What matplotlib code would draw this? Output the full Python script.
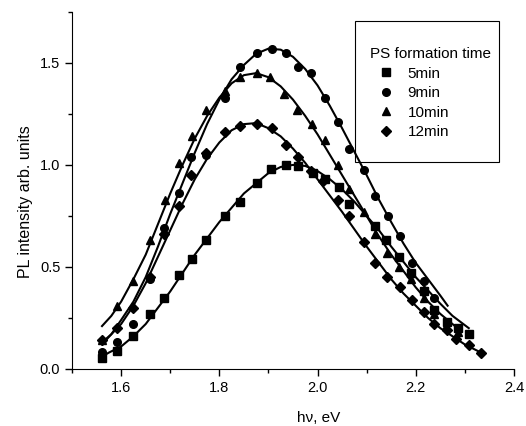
import numpy as np
import matplotlib
matplotlib.use('Agg')
import matplotlib.pyplot as plt
from matplotlib.patches import Rectangle
from matplotlib.ticker import MultipleLocator

plt.rcParams['font.family'] = ['Liberation Sans', 'DejaVu Sans']

# 5min (squares)
x5 = [1.561, 1.592, 1.624, 1.659, 1.688, 1.717, 1.745, 1.773, 1.811, 1.843, 1.877, 1.906,
      1.935, 1.961, 1.99, 2.016, 2.043, 2.065, 2.118, 2.139, 2.165, 2.19, 2.216, 2.237,
      2.263, 2.286, 2.308]
y5 = [0.054, 0.09, 0.16, 0.27, 0.35, 0.46, 0.54, 0.63, 0.75, 0.82, 0.91, 0.98,
      1.00, 0.995, 0.96, 0.93, 0.89, 0.81, 0.70, 0.63, 0.55, 0.47, 0.38, 0.29,
      0.23, 0.20, 0.17]

# 9min (circles)
x9 = [1.561, 1.592, 1.624, 1.659, 1.688, 1.717, 1.743, 1.773, 1.812, 1.843, 1.877, 1.908,
      1.935, 1.961, 1.986, 2.016, 2.041, 2.065, 2.094, 2.118, 2.143, 2.167, 2.192, 2.216,
      2.237]
y9 = [0.085, 0.13, 0.22, 0.44, 0.69, 0.86, 1.04, 1.05, 1.33, 1.48, 1.55, 1.57,
      1.55, 1.48, 1.45, 1.33, 1.21, 1.08, 0.975, 0.85, 0.75, 0.65, 0.52, 0.43,
      0.35]

# 10min (triangles)
x10 = [1.561, 1.592, 1.624, 1.659, 1.69, 1.717, 1.745, 1.773, 1.812, 1.843, 1.877, 1.904,
       1.931, 1.959, 1.988, 2.016, 2.041, 2.065, 2.094, 2.118, 2.141, 2.165, 2.19, 2.216,
       2.237, 2.261, 2.286]
y10 = [0.14, 0.31, 0.43, 0.63, 0.83, 1.01, 1.14, 1.27, 1.36, 1.43, 1.45, 1.43,
       1.35, 1.27, 1.20, 1.12, 1.00, 0.88, 0.77, 0.66, 0.57, 0.50, 0.44, 0.35,
       0.27, 0.21, 0.18]

# 12min (diamonds)
x12 = [1.561, 1.592, 1.624, 1.659, 1.688, 1.717, 1.743, 1.773, 1.812, 1.843, 1.877, 1.908,
       1.935, 1.961, 1.986, 2.012, 2.041, 2.065, 2.094, 2.118, 2.141, 2.167, 2.192, 2.216,
       2.237, 2.263, 2.282, 2.308, 2.333]
y12 = [0.14, 0.20, 0.30, 0.45, 0.66, 0.80, 0.95, 1.06, 1.16, 1.19, 1.20, 1.18,
       1.10, 1.04, 0.97, 0.92, 0.83, 0.75, 0.62, 0.52, 0.45, 0.40, 0.34, 0.28,
       0.22, 0.19, 0.147, 0.118, 0.08]

# fitted curves
fx5 = [1.561, 1.575, 1.60, 1.625, 1.65, 1.675, 1.70, 1.725, 1.75, 1.775, 1.80, 1.825, 1.85,
       1.875, 1.90, 1.925, 1.95, 1.975, 2.00, 2.025, 2.05, 2.075, 2.10, 2.125, 2.15, 2.175,
       2.20, 2.225, 2.25, 2.275, 2.308]
fy5 = [0.06, 0.08, 0.11, 0.16, 0.22, 0.30, 0.38, 0.47, 0.56, 0.64, 0.72, 0.79, 0.86,
       0.91, 0.96, 0.99, 1.00, 0.995, 0.97, 0.93, 0.88, 0.82, 0.75, 0.68, 0.60, 0.525,
       0.45, 0.385, 0.32, 0.26, 0.20]

fx9 = [1.561, 1.58, 1.60, 1.625, 1.65, 1.675, 1.70, 1.725, 1.75, 1.775, 1.80, 1.825, 1.85,
       1.875, 1.90, 1.925, 1.95, 1.975, 2.00, 2.025, 2.05, 2.075, 2.10, 2.125, 2.15, 2.175,
       2.20, 2.225, 2.25, 2.265]
fy9 = [0.12, 0.17, 0.24, 0.33, 0.45, 0.60, 0.76, 0.91, 1.06, 1.20, 1.32, 1.42, 1.49,
       1.545, 1.57, 1.565, 1.53, 1.47, 1.39, 1.29, 1.18, 1.065, 0.95, 0.83, 0.72, 0.615,
       0.52, 0.44, 0.36, 0.31]

fx10 = [1.561, 1.58, 1.60, 1.625, 1.65, 1.675, 1.70, 1.725, 1.75, 1.775, 1.80, 1.825, 1.85,
        1.875, 1.90, 1.925, 1.95, 1.975, 2.00, 2.025, 2.05, 2.075, 2.10, 2.125, 2.15, 2.175,
        2.20, 2.225, 2.25, 2.29]
fy10 = [0.21, 0.26, 0.33, 0.44, 0.56, 0.71, 0.86, 1.00, 1.13, 1.24, 1.33, 1.40, 1.44,
        1.45, 1.43, 1.385, 1.32, 1.24, 1.15, 1.05, 0.95, 0.85, 0.75, 0.65, 0.56, 0.48,
        0.40, 0.33, 0.27, 0.19]

fx12 = [1.561, 1.58, 1.60, 1.625, 1.65, 1.675, 1.70, 1.725, 1.75, 1.775, 1.80, 1.825, 1.85,
        1.875, 1.90, 1.925, 1.95, 1.975, 2.00, 2.025, 2.05, 2.075, 2.10, 2.125, 2.15, 2.175,
        2.20, 2.225, 2.25, 2.275, 2.30, 2.333]
fy12 = [0.13, 0.17, 0.22, 0.31, 0.42, 0.55, 0.68, 0.81, 0.93, 1.03, 1.11, 1.17, 1.20,
        1.205, 1.18, 1.14, 1.08, 1.01, 0.93, 0.85, 0.77, 0.685, 0.60, 0.52, 0.44, 0.37,
        0.31, 0.25, 0.20, 0.16, 0.12, 0.08]

labels = ['5min', '9min', '10min', '12min']
markers = ['s', 'o', '^', 'D']

fig = plt.figure(figsize=(5.26, 4.26), dpi=100)
ax = fig.add_axes([0.137, 0.134, 0.840, 0.838])

pts = [(x5, y5), (x9, y9), (x10, y10), (x12, y12)]
fits = [(fx5, fy5), (fx9, fy9), (fx10, fy10), (fx12, fy12)]
handles = []
for (px, py), (cx, cy), lab, m in zip(pts, fits, labels, markers):
    ax.plot(cx, cy, color='black', lw=1.5)
    ms = 5.5 if m != 'D' else 5
    h, = ax.plot(px, py, ls='none', marker=m, color='black', ms=ms, label=lab)
    handles.append(h)

ax.set_xlim(1.5, 2.4)
ax.set_ylim(0.0, 1.75)
ax.xaxis.set_major_locator(MultipleLocator(0.2))
ax.xaxis.set_minor_locator(MultipleLocator(0.1))
ax.yaxis.set_major_locator(MultipleLocator(0.5))
ax.yaxis.set_minor_locator(MultipleLocator(0.25))
ax.spines['top'].set_visible(False)
ax.spines['right'].set_visible(False)
ax.tick_params(which='major', direction='out', length=5, width=1, labelsize=10.5)
ax.tick_params(which='minor', direction='out', length=3, width=1)
ax.set_xticks([1.6, 1.8, 2.0, 2.2, 2.4])

ax.set_xlabel('h\u03bd, eV', fontsize=11)
ax.set_ylabel('PL intensity arb. units', fontsize=11.5)
ax.xaxis.set_label_coords(0.557, -0.118)
ax.yaxis.set_label_coords(-0.088, 0.47)

leg = ax.legend(handles=handles, title='PS formation time', frameon=False,
                loc='upper left', bbox_to_anchor=(0.656, 0.923), fontsize=11,
                title_fontsize=11, handlelength=2.1, handletextpad=0.4,
                labelspacing=0.36, borderpad=0, alignment='left')
ax.add_patch(Rectangle((0.640, 0.581), 0.326, 0.394, transform=ax.transAxes,
                       fill=False, ec='black', lw=0.8, clip_on=False))

fig.savefig('out.png', dpi=100)
